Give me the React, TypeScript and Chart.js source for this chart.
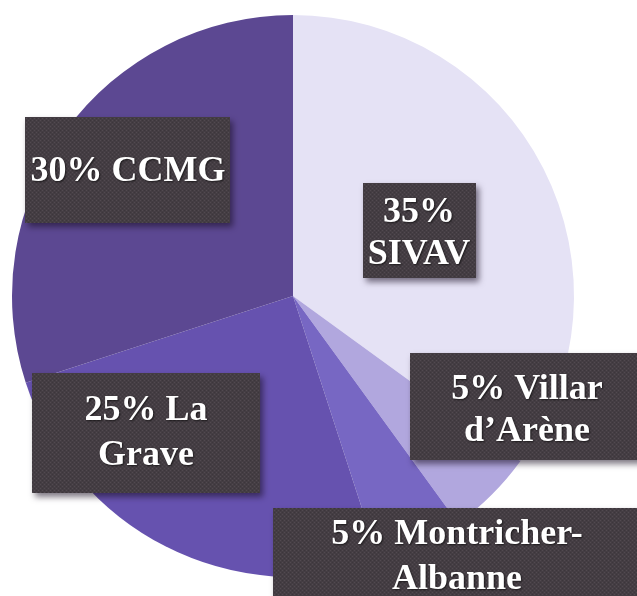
import React, { useEffect, useRef } from "react";
import { Chart, registerables } from "chart.js";

Chart.register(...registerables);

// ---- data ----
const categories = ["SIVAV", "Villar d’Arène", "Montricher-Albanne", "La Grave", "CCMG"];
const shares = [35, 5, 5, 25, 30];
const labelLines: string[][] = [
  ["35%", "SIVAV"],
  ["5% Villar", "d’Arène"],
  ["5% Montricher-", "Albanne"],
  ["25% La", "Grave"],
  ["30% CCMG"],
];

// ---- styles ----
const sliceColors = ["#e5e2f5", "#b1a7de", "#7767c3", "#6652af", "#5c4892"];

// label boxes, offsets relative to the pie centre (px)
const boxes = [
  { x: 70, y: -113, w: 113, h: 95, tx: 56, ly: [30, 72] },
  { x: 117, y: 57, w: 240, h: 107, tx: 117, ly: [37, 79] },
  { x: -20, y: 212, w: 370, h: 100, tx: 184, ly: [27, 72] },
  { x: -261, y: 77, w: 228, h: 120, tx: 114, ly: [38, 83] },
  { x: -268, y: -179, w: 205, h: 106, tx: 103, ly: [55] },
];

function makePattern(ctx: CanvasRenderingContext2D) {
  const c = document.createElement("canvas");
  c.width = 4;
  c.height = 4;
  const p = c.getContext("2d")!;
  p.fillStyle = "#443d43";
  p.fillRect(0, 0, 4, 4);
  p.fillStyle = "#524a50";
  p.fillRect(0, 0, 1, 1);
  p.fillRect(2, 2, 1, 1);
  p.fillStyle = "#3c363b";
  p.fillRect(2, 0, 1, 1);
  p.fillRect(0, 2, 1, 1);
  return ctx.createPattern(c, "repeat");
}

const labelPlugin = {
  id: "boxLabels",
  afterDraw(chart: any) {
    const ctx: CanvasRenderingContext2D = chart.ctx;
    const meta = chart.getDatasetMeta(0);
    const first = meta.data[0];
    if (!first) return;
    const cx = first.x;
    const cy = first.y;
    const pattern = makePattern(ctx);
    meta.data.forEach((_arc: any, i: number) => {
      const b = boxes[i];
      const lines = labelLines[i];
      const left = cx + b.x;
      const top = cy + b.y;
      ctx.save();
      ctx.shadowColor = "rgba(20,10,30,0.55)";
      ctx.shadowBlur = 6;
      ctx.shadowOffsetX = 3;
      ctx.shadowOffsetY = 4;
      ctx.fillStyle = pattern || "#463f44";
      ctx.fillRect(left, top, b.w, b.h);
      ctx.restore();

      ctx.save();
      ctx.font = "bold 36px 'Liberation Serif', 'DejaVu Serif', serif";
      ctx.textAlign = "center";
      ctx.textBaseline = "middle";
      ctx.fillStyle = "#ffffff";
      ctx.shadowColor = "rgba(0,0,0,0.6)";
      ctx.shadowBlur = 2;
      ctx.shadowOffsetX = 1;
      ctx.shadowOffsetY = 1;
      lines.forEach((ln, j) => {
        ctx.fillText(ln, left + b.tx, top + b.ly[j]);
      });
      ctx.restore();
    });
  },
};

export default function App() {
  const ref = useRef<HTMLCanvasElement | null>(null);
  useEffect(() => {
    if (!ref.current) return;
    const chart = new Chart(ref.current, {
      type: "pie",
      data: {
        labels: categories,
        datasets: [
          {
            data: shares,
            backgroundColor: sliceColors,
            borderWidth: 0,
          },
        ],
      },
      options: {
        animation: false,
        responsive: true,
        maintainAspectRatio: false,
        layout: { padding: { left: 12, right: 63, top: 15, bottom: 19 } },
        plugins: {
          legend: { display: false },
          tooltip: { enabled: false },
          title: { display: false },
        },
      },
      plugins: [labelPlugin],
    });
    return () => chart.destroy();
  }, []);
  return (
    <div style={{ position: "fixed", left: 0, top: 0, width: 637, height: 596, background: "#ffffff" }}>
      <canvas ref={ref} />
    </div>
  );
}
